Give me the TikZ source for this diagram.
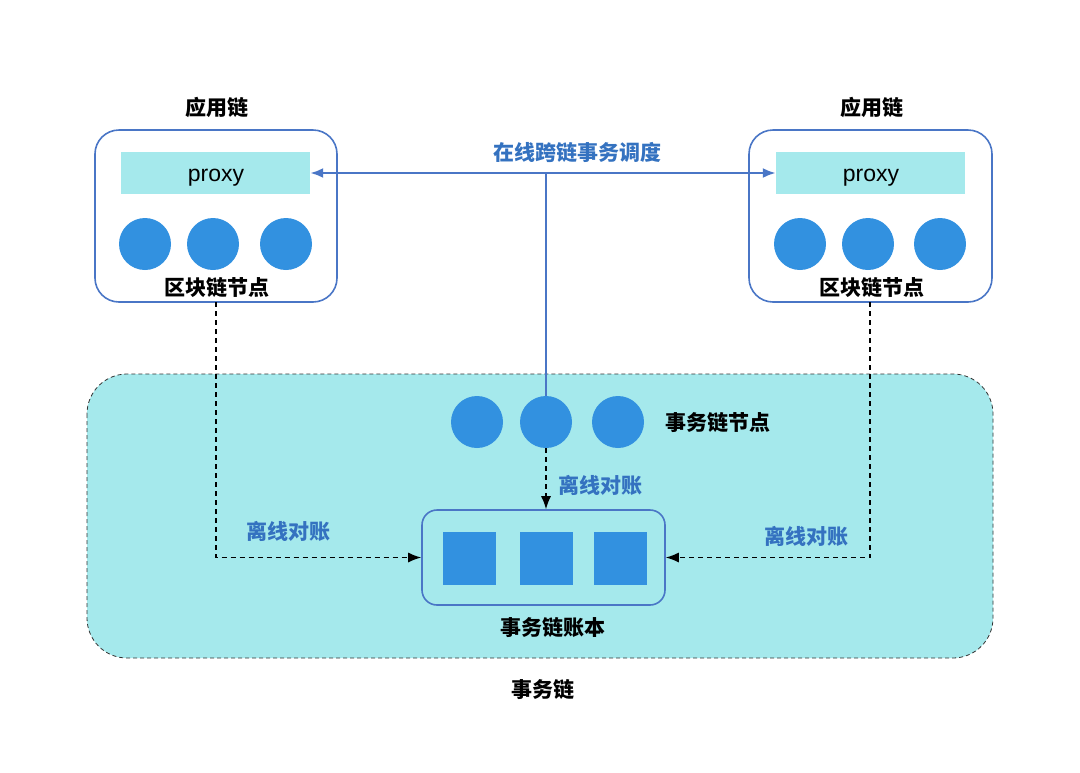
\documentclass[tikz,border=0pt]{standalone}
\usepackage{fontspec}
\setmainfont{Noto Sans CJK SC}
\newfontfamily\proxyfont{Liberation Sans}
\usepackage{tikz}
\usetikzlibrary{arrows.meta}

\definecolor{chainblue}{RGB}{74,118,198}
\definecolor{nodeblue}{RGB}{50,145,224}
\definecolor{lightcyan}{RGB}{165,233,236}
\definecolor{textblue}{RGB}{52,114,192}

\begin{document}
\begin{tikzpicture}[x=1pt,y=-1pt,>={Latex[length=13pt,width=10pt]},
	chainbox/.style={draw=chainblue,line width=1.6pt,rounded corners=24pt},
	proxybox/.style={fill=lightcyan,minimum width=189pt,minimum height=42pt,inner sep=0pt},
	proxytext/.style={font=\proxyfont\fontsize{23}{25}\selectfont},
	dot/.style={circle,fill=nodeblue,minimum size=52pt,inner sep=0pt},
	blk/.style={fill=nodeblue,minimum size=53pt,inner sep=0pt},
	lbl/.style={font=\fontsize{21}{24}\selectfont\bfseries},
	bluelbl/.style={lbl,text=textblue},
	offline/.style={->,dashed,dash pattern=on 5pt off 4pt,line width=1.3pt}]
	\useasboundingbox (0,0) rectangle (1080,772);

	% transaction chain area
	\draw[fill=lightcyan,dashed,dash pattern=on 4pt off 3pt,line width=0.8pt,draw=black!80,rounded corners=40pt] (87,374) rectangle (993,658);
	\node[lbl] (tchain) at (543,690) {事务链};

	% left application chain
	\draw[chainbox] (95,130) rectangle (337,302);
	\node[lbl] (lapp) at (217,107) {应用链};
	\node[proxybox] (lproxy) at (215.5,173) {};
	\node[proxytext] (lproxytxt) at (216,178) {proxy};
	\node[dot] (l1) at (145,244) {};
	\node[dot] (l2) at (213,244) {};
	\node[dot] (l3) at (286,244) {};
	\node[lbl] (lnodes) at (217,288) {区块链节点};
	\coordinate (lout) at (216,302);

	% right application chain
	\draw[chainbox] (749,130) rectangle (992,302);
	\node[lbl] (rapp) at (872,107) {应用链};
	\node[proxybox] (rproxy) at (870.5,173) {};
	\node[proxytext] (rproxytxt) at (871,178) {proxy};
	\node[dot] (r1) at (800,244) {};
	\node[dot] (r2) at (868,244) {};
	\node[dot] (r3) at (940,244) {};
	\node[lbl] (rnodes) at (872,288) {区块链节点};
	\coordinate (rout) at (870,302);

	% transaction chain nodes and ledger
	\node[dot] (t1) at (477,422) {};
	\node[dot] (t2) at (546,422) {};
	\node[dot] (t3) at (618,422) {};
	\node[lbl] (tnodes) at (718,423) {事务链节点};
	\node[draw=chainblue,line width=1.6pt,rounded corners=15pt,minimum width=243pt,minimum height=95pt] (ledger) at (543.5,557.5) {};
	\node[blk] (b1) at (469.5,558) {};
	\node[blk] (b2) at (546.5,558) {};
	\node[blk] (b3) at (620.5,558) {};
	\node[lbl] (lbook) at (553,628) {事务链账本};

	% online scheduling
	\draw[<->,chainblue,line width=2.4pt] (lproxy.east) -- (rproxy.west);
	\draw[chainblue,line width=2.4pt] (t2.north) -- (t2.north |- lproxy.east);
	\node[bluelbl] (online) at (577,152) {在线跨链事务调度};

	% offline reconciliation
	\draw[offline] (t2.south) -- (t2.south |- ledger.north);
	\draw[offline] (lout) |- (ledger.west);
	\draw[offline] (rout) |- (ledger.east);
	\node[bluelbl] (off1) at (600,485) {离线对账};
	\node[bluelbl] (off2) at (288,531) {离线对账};
	\node[bluelbl] (off3) at (806,536) {离线对账};
\end{tikzpicture}
\end{document}
